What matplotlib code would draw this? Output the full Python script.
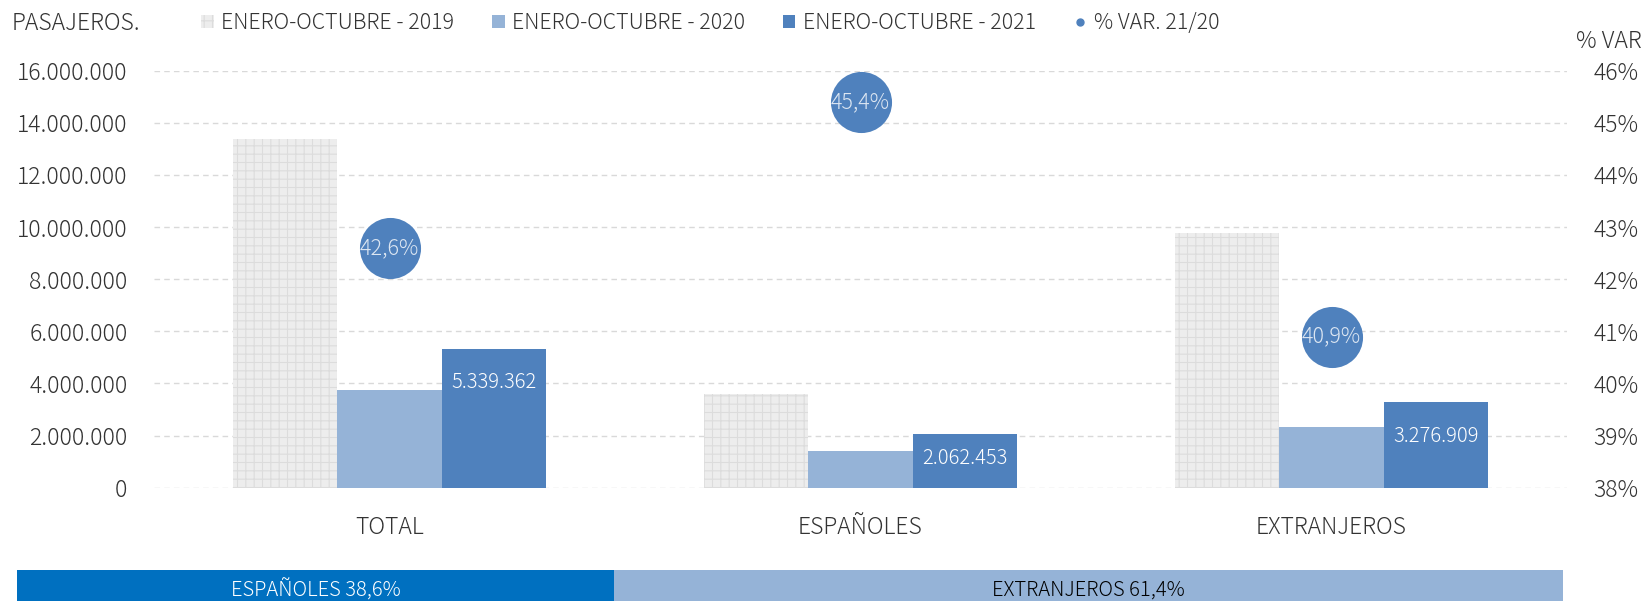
import numpy as np
import matplotlib.pyplot as plt
from matplotlib.patches import Patch
from matplotlib.lines import Line2D
from matplotlib.ticker import FuncFormatter

plt.rcParams['font.family'] = ['Noto Sans CJK JP', 'DejaVu Sans']
plt.rcParams['font.weight'] = 'light'
plt.rcParams['hatch.linewidth'] = 0.8

# datos
categorias = ["TOTAL", "ESPAÑOLES", "EXTRANJEROS"]
pasajeros_2019 = [13370000, 3580000, 9780000]
pasajeros_2020 = [3740000, 1400000, 2310000]
pasajeros_2021 = [5339362, 2062453, 3276909]
var_21_20 = [42.6, 45.4, 40.9]
series = ["ENERO-OCTUBRE - 2019", "ENERO-OCTUBRE - 2020", "ENERO-OCTUBRE - 2021", "% VAR. 21/20"]
cuota_labels = ["ESPAÑOLES 38,6%", "EXTRANJEROS 61,4%"]
cuota = [38.6, 61.4]

c2019 = "#EDEDED"
c2020 = "#95B3D7"
c2021 = "#4F81BD"
txt = "#333333"

fig = plt.figure(figsize=(16.45, 6.01), dpi=100)
W, H = 1645, 601
ax = fig.add_axes([154 / W, 1 - 487.7 / H, (1567 - 154) / W, (487.7 - 70.7) / H])

x = np.arange(len(categorias))
w = 0.222
ax.bar(x - w, pasajeros_2019, w, color=c2019, edgecolor="#DCDCDC", linewidth=0, hatch="++", zorder=2)
ax.bar(x, pasajeros_2020, w, color=c2020, linewidth=0, zorder=2)
ax.bar(x + w, pasajeros_2021, w, color=c2021, linewidth=0, zorder=2)

# etiquetas dentro de las barras 2021
for xi, v in zip(x, pasajeros_2021):
    off = min(1.3e6, 0.45 * v)
    ax.text(xi + w, v - off, f"{v:,}".replace(",", "."), ha="center", va="center",
            color="white", fontsize=14.5, zorder=3)

ax.set_ylim(0, 16e6)
ax.set_yticks(np.arange(0, 16e6 + 1, 2e6))
ax.yaxis.set_major_formatter(FuncFormatter(lambda v, p: f"{int(v):,}".replace(",", ".")))
ax.set_xlim(-0.5, 2.5)
ax.set_xticks(x)
ax.set_xticklabels(categorias)
ax.tick_params(axis="x", length=0, pad=20, labelsize=16.5, colors=txt)
ax.tick_params(axis="y", length=0, pad=19, labelsize=16.5, colors=txt)
ax.grid(axis="y", color="#D9D9D9", linestyle=(0, (4, 3)), linewidth=1, zorder=0)
for s in ax.spines.values():
    s.set_visible(False)

# eje secundario: % variacion
ax2 = ax.twinx()
ax2.set_ylim(38, 46)
ax2.set_yticks(np.arange(38, 47, 1))
ax2.yaxis.set_major_formatter(FuncFormatter(lambda v, p: f"{int(v)}%"))
ax2.tick_params(axis="y", length=0, pad=19, labelsize=16.5, colors=txt)
for s in ax2.spines.values():
    s.set_visible(False)
ax2.scatter(x, var_21_20, s=61 ** 2 * 0.52, color=c2021, zorder=4, linewidths=0)
for xi, v in zip(x, var_21_20):
    ax2.text(xi, v, f"{v:.1f}%".replace(".", ","), ha="center", va="center",
             color="#DCE6F2", fontsize=15.5, zorder=5)

fig.text(12 / W, 1 - 23 / H, "PASAJEROS.", fontsize=16.5, color=txt, va="center")
fig.text(1642 / W, 1 - 41 / H, "% VAR", fontsize=16.5, color=txt, va="center", ha="right")

handles = [
    Patch(facecolor=c2019, edgecolor="#DCDCDC", hatch="++", linewidth=0),
    Patch(facecolor=c2020, linewidth=0),
    Patch(facecolor=c2021, linewidth=0),
    Line2D([], [], marker="o", linestyle="", color=c2021, markersize=5),
]
fig.legend(handles, series, ncol=4, frameon=False, loc="center left",
           bbox_to_anchor=(201 / W, 1 - 23 / H), fontsize=15.4, labelcolor=txt,
           borderpad=0, borderaxespad=0,
           handlelength=0.6, handleheight=0.6, handletextpad=0.35, columnspacing=1.75)

# franja inferior de cuota
axb = fig.add_axes([17 / W, 1 - 611 / H, (1563 - 17) / W, 41 / H])
izq = np.concatenate([[0], np.cumsum(cuota)[:-1]])
axb.barh([0], cuota, left=izq, height=1.0, color=["#0070C0", "#95B3D7"], linewidth=0)
for l, c, lab, col in zip(izq, cuota, cuota_labels, ["white", "black"]):
    axb.text(l + c / 2, 0.0, lab, ha="center", va="center", color=col, fontsize=14.5)
axb.set_xlim(0, 100)
axb.set_ylim(-0.5, 0.5)
axb.axis("off")

fig.savefig("out.png", dpi=100)
